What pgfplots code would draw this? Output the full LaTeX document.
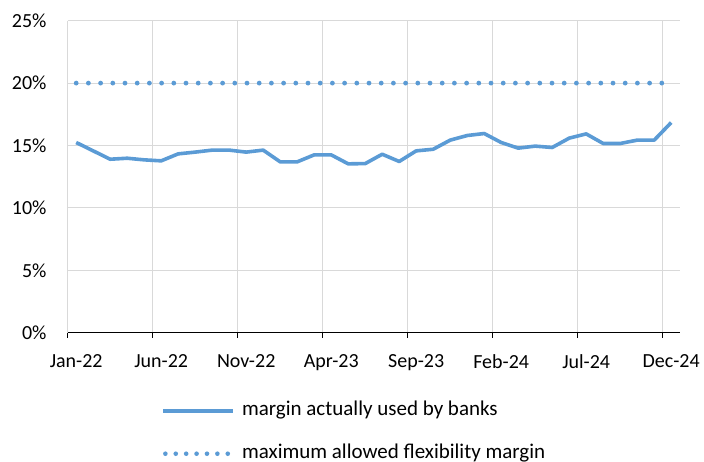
\documentclass[border=0pt]{standalone}
\usepackage{fontspec}
\setmainfont{Carlito}
\usepackage{pgfplots}
\usepackage{pgfplotstable}
\pgfplotsset{compat=1.18}
\definecolor{lineblue}{HTML}{5B9BD5}
\definecolor{gridgray}{HTML}{D9D9D9}
\pgfplotstableread{
i used max
0 15.24 20
1 14.57 20
2 13.90 20
3 13.98 20
4 13.85 20
5 13.77 20
6 14.33 20
7 14.47 20
8 14.63 20
9 14.63 20
10 14.47 20
11 14.63 20
12 13.69 20
13 13.69 20
14 14.25 20
15 14.25 20
16 13.53 20
17 13.55 20
18 14.30 20
19 13.72 20
20 14.57 20
21 14.70 20
22 15.43 20
23 15.80 20
24 15.96 20
25 15.24 20
26 14.79 20
27 14.95 20
28 14.84 20
29 15.59 20
30 15.93 20
31 15.16 20
32 15.16 20
33 15.43 20
34 15.43 20
35 16.84 20
}\datatable
\newcommand{\tickfont}{\fontsize{20bp}{24bp}\selectfont}
\newcommand{\legfont}{\fontsize{21bp}{25bp}\selectfont}
\begin{document}
\begin{tikzpicture}
\begin{axis}[name=ax, scale only axis, width=612bp, height=312bp,
  xmin=-0.5, xmax=35.5, ymin=0, ymax=25,
  axis lines*=left,
  axis line style={-},
  x axis line style={black, line width=1.3bp},
  y axis line style={gridgray, line width=1bp},
  xtick={0,5,...,35},
  xticklabels={Jan-22,Jun-22,Nov-22,Apr-23,Sep-23,Feb-24,Jul-24,Dec-24},
  minor xtick={-0.5,4.5,...,34.5},
  ytick={0,5,...,25},
  yticklabel={\pgfmathprintnumber{\tick}\%},
  /pgf/number format/assume math mode=true,
  ymajorgrids, xminorgrids,
  grid style={gridgray, line width=1bp},
  minor grid style={gridgray, line width=1bp},
  major tick length=0pt, minor tick length=5bp, tick align=outside,
  minor tick style={black, line width=1bp},
  tick label style={font=\tickfont},
  yticklabel style={anchor=east, inner sep=0pt, xshift=-21bp},
  xticklabel style={anchor=north, inner sep=0pt, yshift=-22bp},
  legend style={at={(0.1529,-0.2228)}, anchor=north west, draw=none, fill=none,
    inner sep=0pt, outer sep=0pt, row sep=26bp, font=\legfont,
    nodes={inner sep=0pt, text height=13bp, text depth=4bp}},
  legend cell align=left,
]
\addlegendimage{legend image code/.code={\draw[lineblue, line width=3.6bp] (0bp,0bp) -- (70bp,0bp); \path[draw=none] (0bp,0bp) -- (79bp,0bp);}}
\addlegendentry{margin actually used by banks}
\addlegendimage{legend image code/.code={\draw[lineblue, line width=4.6bp, line cap=round, dash pattern=on 0bp off 10.4bp] (2.3bp,0bp) -- (65bp,0bp); \path[draw=none] (0bp,0bp) -- (79bp,0bp);}}
\addlegendentry{maximum allowed flexibility margin}
\addplot[forget plot, lineblue, line width=3.6bp, line join=round] table[x=i, y=used] {\datatable};
\addplot[forget plot, lineblue, line width=4.8bp, line cap=round, dash pattern=on 0bp off 12.2bp] table[x=i, y=max] {\datatable};
\end{axis}
\pgfresetboundingbox
\path[use as bounding box] ([xshift=-67.7bp, yshift=-129.3bp]ax.south west) rectangle ++(704bp,462bp);
\end{tikzpicture}
\end{document}
